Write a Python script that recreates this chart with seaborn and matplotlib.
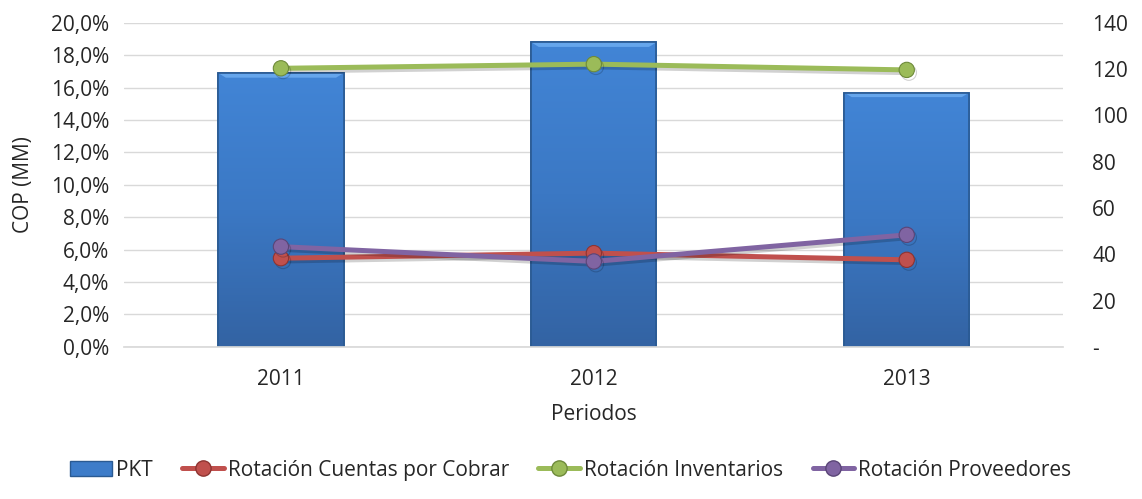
import matplotlib
matplotlib.use("Agg")
import matplotlib.pyplot as plt
import matplotlib.ticker as mticker
import matplotlib.patheffects as pe
from matplotlib.lines import Line2D
from matplotlib.patches import Patch, Rectangle, Polygon
import numpy as np
import pandas as pd
import seaborn as sns

periods = ["2011", "2012", "2013"]
pkt = [0.169, 0.188, 0.157]
rot_cobrar = [38.3, 40.5, 37.6]
rot_inventarios = [120.4, 122.2, 119.7]
rot_proveedores = [43.3, 36.9, 48.4]

sns.set_theme(style="white")
plt.rcParams["font.family"] = ["Open Sans", "DejaVu Sans"]

BAR = "#3D7CC9"
BAR_EDGE = "#2A5A92"
RED = "#C0504D"
GREEN = "#9BBB59"
PURPLE = "#8064A2"
TXT = "#262626"
FS = 15

fig = plt.figure(figsize=(11.42, 4.99), dpi=100)
ax = fig.add_axes([0.109, 0.305, 0.822, 0.649])

df_bar = pd.DataFrame({"Periodo": periods, "PKT": pkt})
sns.barplot(data=df_bar, x="Periodo", y="PKT", color=BAR, width=0.4,
            edgecolor=BAR_EDGE, linewidth=1.2, saturation=1, ax=ax, zorder=2)

# vertical shading on the bars plus a light bevel along the top edge
shade = matplotlib.colors.LinearSegmentedColormap.from_list(
    "barshade", ["#3363A3", "#3B78C4", "#4285D6"])
for p in list(ax.patches):
    x0, y0 = p.get_x(), p.get_y()
    w, h = p.get_width(), p.get_height()
    grad = np.linspace(0, 1, 256).reshape(-1, 1)
    im = ax.imshow(grad, extent=[x0, x0 + w, y0, y0 + h], origin="lower",
                   cmap=shade, aspect="auto", zorder=2.1)
    im.set_clip_path(p)
    bev = 0.0028
    ax.add_patch(Polygon([(x0, y0 + h), (x0 + w, y0 + h),
                          (x0 + w * 0.94, y0 + h - bev), (x0 + w * 0.06, y0 + h - bev)],
                         closed=True, facecolor="#66A6EC", edgecolor="none", zorder=2.2))
    ax.add_patch(Rectangle((x0, y0), w, h, facecolor="none",
                           edgecolor=BAR_EDGE, linewidth=1.2, zorder=2.3))

ax.set_xlim(-0.5, 2.5)
ax.set_ylim(0, 0.20)
ax.set_yticks(np.arange(0, 0.201, 0.02))
ax.yaxis.set_major_formatter(mticker.FuncFormatter(
    lambda v, _: f"{v * 100:.1f}%".replace(".", ",")))
ax.grid(axis="y", color="#D9D9D9", linewidth=1.0, zorder=0)
ax.set_axisbelow(True)
for s in ["top", "right", "left"]:
    ax.spines[s].set_visible(False)
ax.spines["bottom"].set_color("#D9D9D9")
ax.tick_params(axis="y", length=0, labelsize=FS, colors=TXT, pad=11)
ax.tick_params(axis="x", length=0, labelsize=FS, colors=TXT, pad=16)
ax.set_xlabel("Periodos", fontsize=FS, color=TXT, labelpad=10)
ax.set_ylabel("COP (MM)", fontsize=FS, color=TXT, labelpad=12)

ax2 = ax.twinx()
df_lines = pd.DataFrame({
    "Periodo": periods * 3,
    "Serie": (["Rotación Cuentas por Cobrar"] * 3 + ["Rotación Inventarios"] * 3
              + ["Rotación Proveedores"] * 3),
    "Valor": rot_cobrar + rot_inventarios + rot_proveedores,
})
palette = {"Rotación Cuentas por Cobrar": RED,
           "Rotación Inventarios": GREEN,
           "Rotación Proveedores": PURPLE}
edges = {RED: "#8E3431", GREEN: "#6E8A3A", PURPLE: "#5A4577"}
sns.lineplot(data=df_lines, x="Periodo", y="Valor", hue="Serie", palette=palette,
             marker="o", markersize=11, linewidth=3.6, sort=False, ax=ax2,
             legend=False, zorder=3)
for ln in ax2.lines:
    c = ln.get_color()
    ln.set_markeredgecolor(edges.get(c, "#555555"))
    ln.set_markeredgewidth(0.8)
    ln.set_path_effects([pe.SimpleLineShadow(offset=(1.5, -2), shadow_color="#000000",
                                             alpha=0.18), pe.Normal()])
ax2.set_xlim(-0.5, 2.5)
ax2.set_ylim(0, 140)
ax2.set_yticks(np.arange(0, 141, 20))
ax2.yaxis.set_major_formatter(mticker.FuncFormatter(
    lambda v, _: "-" if v == 0 else f"{int(v)}"))
ax2.set_ylabel("")
for s in ["top", "right", "left", "bottom"]:
    ax2.spines[s].set_visible(False)
ax2.tick_params(axis="y", length=0, labelsize=FS, colors=TXT, pad=21)
ax2.grid(False)

handles = [
    Patch(facecolor=BAR, edgecolor=BAR_EDGE, label="PKT"),
    Line2D([0], [0], color=RED, lw=3.6, marker="o", markersize=11,
           markeredgecolor=edges[RED], label="Rotación Cuentas por Cobrar"),
    Line2D([0], [0], color=GREEN, lw=3.6, marker="o", markersize=11,
           markeredgecolor=edges[GREEN], label="Rotación Inventarios"),
    Line2D([0], [0], color=PURPLE, lw=3.6, marker="o", markersize=11,
           markeredgecolor=edges[PURPLE], label="Rotación Proveedores"),
]
fig.legend(handles=handles, loc="center", bbox_to_anchor=(0.5, 0.058), ncol=4,
           frameon=False, fontsize=FS, handlelength=2.0, handletextpad=0.2,
           columnspacing=1.4, labelcolor=TXT)

fig.savefig("out.png", dpi=100, facecolor="white")
